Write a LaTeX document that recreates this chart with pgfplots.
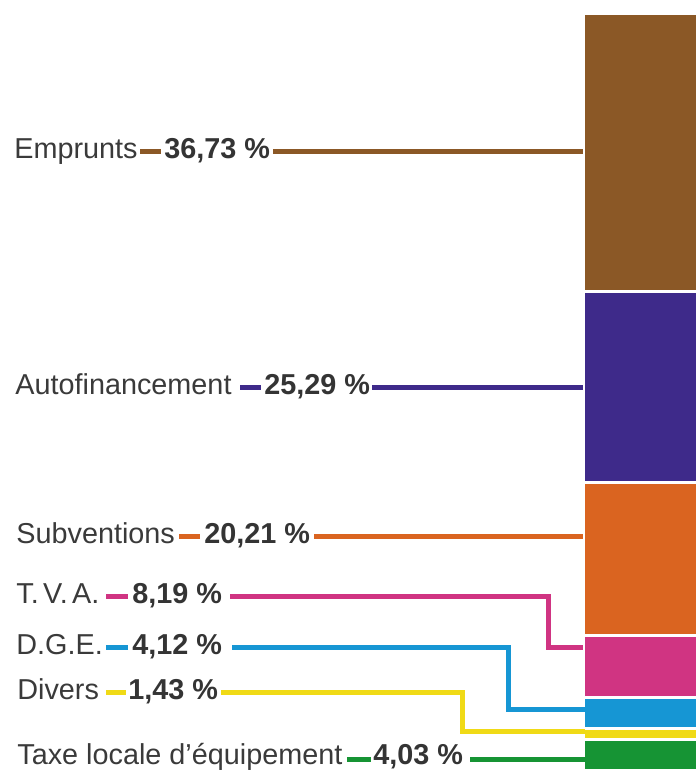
\documentclass[border=0pt]{standalone}
\usepackage{pgfplots}
\pgfplotsset{compat=1.18}
\usepackage{fontspec}
\setmainfont{Liberation Sans}
\definecolor{cbrown}{RGB}{139,88,38}
\definecolor{cpurple}{RGB}{62,42,138}
\definecolor{corange}{RGB}{218,100,32}
\definecolor{cmagenta}{RGB}{208,52,130}
\definecolor{cblue}{RGB}{22,150,212}
\definecolor{cyellow}{RGB}{240,218,22}
\definecolor{cgreen}{RGB}{22,148,52}
\definecolor{ctext}{RGB}{58,58,58}
\newcommand\lab[1]{{\fontsize{14.4bp}{17bp}\selectfont\color{ctext}#1}}
\newcommand\num[1]{{\fontsize{14.4bp}{17bp}\selectfont\bfseries\color{ctext!90!black}#1}}
\begin{document}
\begin{tikzpicture}
\pgfplotsset{base/.style={width=348bp,height=385bp,scale only axis,hide axis,
  xmin=0,xmax=696,y dir=reverse}}
% stacked bar (values in percent)
\begin{axis}[base, ymin=-1.85, ymax=100, ybar stacked, bar width=116.5, clip=true]
\addplot[fill=cbrown,   draw=white, line width=1.5bp] coordinates {(641.75,36.73)};
\addplot[fill=cpurple,  draw=white, line width=1.5bp] coordinates {(641.75,25.29)};
\addplot[fill=corange,  draw=white, line width=1.5bp] coordinates {(641.75,20.21)};
\addplot[fill=cmagenta, draw=white, line width=1.5bp] coordinates {(641.75,8.19)};
\addplot[fill=cblue,    draw=white, line width=1.5bp] coordinates {(641.75,4.12)};
\addplot[fill=cyellow,  draw=white, line width=1.5bp] coordinates {(641.75,1.43)};
\addplot[fill=cgreen,   draw=white, line width=1.5bp] coordinates {(641.75,4.03)};
\end{axis}
% labels and leader lines (pixel layout)
\begin{axis}[base, ymin=0, ymax=770, clip=false,
  every axis plot/.append style={line width=2.5bp, line join=miter, line cap=butt, mark=none}]
% Emprunts
\addplot[cbrown] coordinates {(140,151) (161,151)};
\addplot[cbrown] coordinates {(273,151) (583,151)};
\node[anchor=base west, inner sep=0pt] at (axis cs:14,158) {\lab{Emprunts}};
\node[anchor=base west, inner sep=0pt] at (axis cs:164,158) {\num{36,73 \%}};
% Autofinancement
\addplot[cpurple] coordinates {(240,387) (261,387)};
\addplot[cpurple] coordinates {(372,387) (583,387)};
\node[anchor=base west, inner sep=0pt] at (axis cs:15,394) {\lab{Autofinancement}};
\node[anchor=base west, inner sep=0pt] at (axis cs:264,394) {\num{25,29 \%}};
% Subventions
\addplot[corange] coordinates {(179,536) (200,536)};
\addplot[corange] coordinates {(314,536) (583,536)};
\node[anchor=base west, inner sep=0pt] at (axis cs:16,543) {\lab{Subventions}};
\node[anchor=base west, inner sep=0pt] at (axis cs:204,543) {\num{20,21 \%}};
% T.V.A.
\addplot[cmagenta] coordinates {(106,596) (128,596)};
\addplot[cmagenta] coordinates {(230,596) (548,596) (548,647) (583,647)};
\node[anchor=base west, inner sep=0pt] at (axis cs:16,603) {\lab{T.\kern2.2bp V.\kern2.2bp A.}};
\node[anchor=base west, inner sep=0pt] at (axis cs:132,603) {\num{8,19 \%}};
% D.G.E.
\addplot[cblue] coordinates {(106,647) (128,647)};
\addplot[cblue] coordinates {(232,647) (508,647) (508,709) (585,709)};
\node[anchor=base west, inner sep=0pt] at (axis cs:16,654) {\lab{D.G.E.}};
\node[anchor=base west, inner sep=0pt] at (axis cs:132,654) {\num{4,12 \%}};
% Divers
\addplot[cyellow] coordinates {(106,692) (126,692)};
\addplot[cyellow] coordinates {(221,692) (462,692) (462,731) (585,731)};
\node[anchor=base west, inner sep=0pt] at (axis cs:17,699) {\lab{Divers}};
\node[anchor=base west, inner sep=0pt] at (axis cs:128,699) {\num{1,43 \%}};
% Taxe locale d'equipement
\addplot[cgreen] coordinates {(347,759) (371,759)};
\addplot[cgreen] coordinates {(470,759) (585,759)};
\node[anchor=base west, inner sep=0pt] at (axis cs:17,764) {\lab{Taxe locale d’équipement}};
\node[anchor=base west, inner sep=0pt] at (axis cs:373,764) {\num{4,03 \%}};
\end{axis}
\pgfresetboundingbox
\path (0,0) rectangle (348bp,385bp);
\end{tikzpicture}
\end{document}
